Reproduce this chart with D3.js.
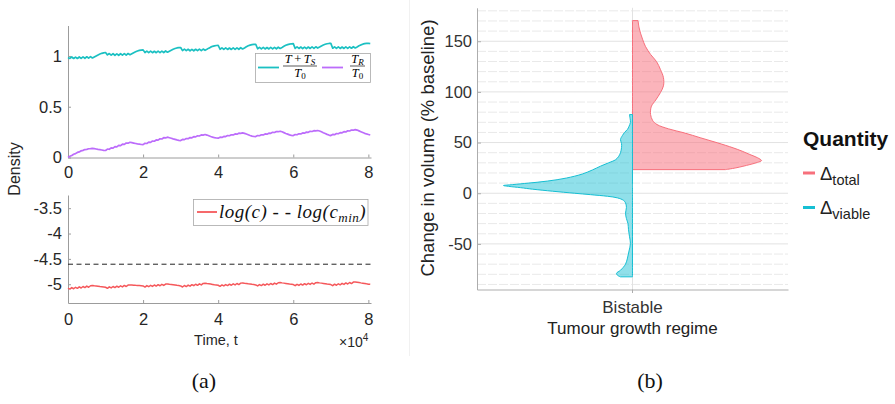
<!DOCTYPE html>
<html>
<head>
<meta charset="utf-8">
<script src="https://cdn.jsdelivr.net/npm/d3@7"></script>
<style>
  body { margin: 0; background: #fff; }
  svg { display: block; }
</style>
</head>
<body>
<div id="chart"></div>
<script>

// ---- Panel (a): time series, sampled every 0.05 x 10^4 time units ----
const timeStep = 0.05;

// (T + T_S) / T0
const sensitiveRatio = [
  0.985, 0.976, 0.99, 0.975, 0.989, 0.975, 0.99, 0.976, 0.991, 0.977, 0.992, 0.978, 0.993, 0.98, 0.99, 1.0, 1.01, 1.019, 1.026, 1.031,
  1.034, 1.01, 1.024, 1.008, 1.022, 1.007, 1.021, 1.007, 1.022, 1.008, 1.023, 1.009, 1.024, 1.012, 1.022, 1.032, 1.041, 1.049, 1.055, 1.058,
  1.06, 1.034, 1.048, 1.033, 1.047, 1.032, 1.046, 1.032, 1.047, 1.033, 1.048, 1.034, 1.049, 1.037, 1.047, 1.057, 1.066, 1.073, 1.079, 1.082,
  1.083, 1.053, 1.067, 1.052, 1.066, 1.051, 1.065, 1.051, 1.066, 1.052, 1.067, 1.053, 1.068, 1.056, 1.066, 1.077, 1.087, 1.095, 1.1, 1.103,
  1.105, 1.066, 1.08, 1.065, 1.079, 1.064, 1.078, 1.064, 1.079, 1.065, 1.08, 1.066, 1.081, 1.069, 1.079, 1.09, 1.1, 1.107, 1.111, 1.114,
  1.115, 1.071, 1.085, 1.07, 1.084, 1.069, 1.083, 1.069, 1.084, 1.07, 1.085, 1.071, 1.086, 1.074, 1.084, 1.095, 1.105, 1.112, 1.117, 1.12,
  1.121, 1.075, 1.089, 1.074, 1.088, 1.073, 1.087, 1.073, 1.088, 1.074, 1.089, 1.075, 1.09, 1.078, 1.088, 1.099, 1.108, 1.115, 1.12, 1.123,
  1.124, 1.076, 1.09, 1.075, 1.089, 1.074, 1.088, 1.074, 1.089, 1.075, 1.09, 1.076, 1.091, 1.079, 1.089, 1.1, 1.109, 1.116, 1.121, 1.124,
  1.125, 1.122
];

// T_R / T0
const resistantRatio = [
  0, 0.012, 0.02, 0.032, 0.038, 0.05, 0.055, 0.066, 0.07, 0.078, 0.08, 0.086, 0.087, 0.09, 0.088, 0.084, 0.08, 0.077, 0.074, 0.071,
  0.069, 0.083, 0.081, 0.095, 0.093, 0.107, 0.105, 0.119, 0.117, 0.131, 0.129, 0.143, 0.141, 0.15, 0.146, 0.142, 0.138, 0.134, 0.131, 0.128,
  0.127, 0.14, 0.138, 0.151, 0.149, 0.162, 0.16, 0.173, 0.171, 0.184, 0.182, 0.195, 0.193, 0.2, 0.195, 0.189, 0.183, 0.178, 0.173, 0.169,
  0.167, 0.178, 0.176, 0.187, 0.185, 0.196, 0.194, 0.205, 0.203, 0.214, 0.212, 0.223, 0.221, 0.226, 0.221, 0.214, 0.207, 0.201, 0.196, 0.192,
  0.19, 0.2, 0.198, 0.208, 0.206, 0.216, 0.214, 0.224, 0.222, 0.232, 0.23, 0.24, 0.238, 0.243, 0.238, 0.231, 0.224, 0.217, 0.211, 0.207,
  0.206, 0.216, 0.214, 0.224, 0.222, 0.232, 0.23, 0.24, 0.238, 0.248, 0.246, 0.256, 0.254, 0.259, 0.253, 0.245, 0.237, 0.23, 0.223, 0.218,
  0.216, 0.226, 0.224, 0.234, 0.232, 0.242, 0.24, 0.25, 0.248, 0.258, 0.256, 0.264, 0.262, 0.266, 0.261, 0.253, 0.244, 0.236, 0.228, 0.221,
  0.216, 0.227, 0.225, 0.236, 0.234, 0.245, 0.243, 0.254, 0.252, 0.263, 0.261, 0.271, 0.269, 0.275, 0.27, 0.262, 0.254, 0.246, 0.238, 0.232,
  0.227, 0.222
];

// log(c) - log(c_min)
const logDrug = [
  -5.075, -5.096, -5.067, -5.089, -5.06, -5.081, -5.052, -5.074, -5.045, -5.066, -5.037, -5.059, -5.03, -5.026, -5.031, -5.035, -5.04, -5.045, -5.049, -5.054,
  -5.059, -5.08, -5.052, -5.073, -5.045, -5.066, -5.038, -5.059, -5.031, -5.052, -5.024, -5.045, -5.017, -5.013, -5.016, -5.019, -5.022, -5.024, -5.027, -5.03,
  -5.033, -5.055, -5.027, -5.049, -5.021, -5.043, -5.015, -5.036, -5.008, -5.03, -5.002, -5.024, -4.996, -4.993, -4.999, -5.004, -5.01, -5.016, -5.022, -5.027,
  -5.033, -5.054, -5.025, -5.046, -5.017, -5.038, -5.009, -5.029, -5.0, -5.021, -4.992, -5.013, -4.984, -4.98, -4.986, -4.991, -4.997, -5.003, -5.009, -5.014,
  -5.02, -5.041, -5.013, -5.034, -5.006, -5.027, -4.999, -5.02, -4.992, -5.013, -4.985, -5.006, -4.978, -4.974, -4.98, -4.985, -4.991, -4.996, -5.002, -5.007,
  -5.013, -5.034, -5.006, -5.027, -4.999, -5.02, -4.992, -5.013, -4.985, -5.006, -4.978, -4.999, -4.971, -4.967, -4.973, -4.978, -4.984, -4.99, -4.996, -5.001,
  -5.007, -5.029, -5.001, -5.023, -4.995, -5.017, -4.989, -5.01, -4.982, -5.004, -4.976, -4.998, -4.97, -4.967, -4.973, -4.978, -4.984, -4.99, -4.996, -5.001,
  -5.007, -5.028, -4.999, -5.02, -4.991, -5.012, -4.983, -5.003, -4.974, -4.995, -4.966, -4.987, -4.958, -4.954, -4.96, -4.966, -4.973, -4.979, -4.985, -4.992,
  -4.998, -5.002
];

const logThreshold = -4.605;
const timeTicks = [0, 2, 4, 6, 8];
const densityTicks = [0, 0.5, 1];
const logTicks = [-5, -4.5, -4, -3.5];

// ---- Panel (b): split violin, relative density at each volume change ----
const regimes = ["Bistable"];
const quantities = ["total", "viable"];

const totalLevels = [23.3, 25, 28.3, 30.5, 32.2, 35, 38.2, 41.5, 44.8, 49.7, 54.6, 59.6, 63.5, 67.8, 72,
  77.7, 82, 86, 92, 99.4, 106, 114, 122, 130, 137, 145, 152, 158, 164, 170.4];
const totalDensity = [0.72, 0.8, 0.91, 0.97, 1.0, 0.97, 0.91, 0.85, 0.78, 0.66, 0.53, 0.4, 0.28, 0.19, 0.155,
  0.14, 0.14, 0.147, 0.18, 0.217, 0.24, 0.24, 0.217, 0.186, 0.14, 0.1, 0.078, 0.062, 0.05, 0.043];

const viableLevels = [-82.5, -81, -79, -76, -70, -64, -57, -49.5, -43, -36, -30, -25, -19.7, -14, -9.5, -7,
  -4.6, -3, -1.4, 0, 2, 4, 5.5, 6.8, 7.6, 8.5, 10, 12, 15, 19, 23, 26.7, 30, 33, 36, 40, 45, 49, 53, 57,
  60, 63, 66, 70, 74, 77.6];
const viableDensity = [0.093, 0.116, 0.124, 0.093, 0.054, 0.039, 0.027, 0.016, 0.023, 0.031, 0.035, 0.047,
  0.054, 0.047, 0.054, 0.07, 0.116, 0.194, 0.326, 0.45, 0.62, 0.775, 0.868, 0.961, 1.0, 0.93, 0.806, 0.659,
  0.512, 0.388, 0.31, 0.248, 0.186, 0.132, 0.109, 0.093, 0.085, 0.085, 0.093, 0.078, 0.062, 0.039, 0.027,
  0.016, 0.019, 0.023];

const volumeTicks = [-50, 0, 50, 100, 150];

// ---- Setup ----
const width = 895;
const height = 404;
const sans = "'Liberation Sans', Arial, Helvetica, sans-serif";
const serif = "'Liberation Serif', 'Times New Roman', serif";

const colSensitive = "#1bc0c2";
const colResistant = "#bc6cfb";
const colDrug = "#f5585b";
const colTotal = "#f7707c";
const colViable = "#16bfd3";

const svg = d3.select("#chart")
  .append("svg")
    .attr("width", width)
    .attr("height", height)
    .attr("viewBox", `0 0 ${width} ${height}`)
    .style("font-family", sans);

// faint border of the right-hand figure
svg.append("line")
  .attr("x1", 409.5).attr("x2", 409.5)
  .attr("y1", 0).attr("y2", 356)
  .attr("stroke", "#f1f1f1");

const times = sensitiveRatio.map((d, i) => i * timeStep);

const xTime = d3.scaleLinear().domain([0, 8.07]).range([68, 371]);
const yDensity = d3.scaleLinear().domain([0, 1.3]).range([157.5, 25.5]);
const yLog = d3.scaleLinear().domain([-5.37, -3.24]).range([303, 195]);

const styleMatlabAxis = g => {
  g.select(".domain").attr("stroke", "#9c9c9c");
  g.selectAll(".tick line").attr("stroke", "#9c9c9c");
  g.selectAll(".tick text")
    .attr("fill", "#262626")
    .style("font-size", "16.5px")
    .style("font-family", sans);
};

// top panel
svg.append("g")
  .attr("transform", `translate(0, ${yDensity(0)})`)
  .call(d3.axisBottom(xTime).tickValues(timeTicks).tickFormat(d => d)
    .tickSizeInner(-3).tickSizeOuter(0).tickPadding(9))
  .call(styleMatlabAxis);

svg.append("g")
  .attr("transform", `translate(${xTime(0)}, 0)`)
  .call(d3.axisLeft(yDensity).tickValues(densityTicks).tickFormat(d => d)
    .tickSizeInner(-3).tickSizeOuter(0).tickPadding(6))
  .call(styleMatlabAxis);

const lineTop = series => d3.line()
  .x((d, i) => xTime(times[i]))
  .y(d => yDensity(d))(series);

svg.append("path")
  .attr("d", lineTop(sensitiveRatio))
  .attr("fill", "none")
  .attr("stroke", colSensitive)
  .attr("stroke-width", 1.7)
  .attr("stroke-linejoin", "round");

svg.append("path")
  .attr("d", lineTop(resistantRatio))
  .attr("fill", "none")
  .attr("stroke", colResistant)
  .attr("stroke-width", 1.7)
  .attr("stroke-linejoin", "round");

// top legend
const legTop = svg.append("g").style("font-family", serif);
legTop.append("rect")
  .attr("x", 255.5).attr("y", 53.5)
  .attr("width", 115).attr("height", 29)
  .attr("fill", "#fff").attr("stroke", "#a8a8a8").attr("stroke-width", 0.8);
legTop.append("line")
  .attr("x1", 258).attr("x2", 279).attr("y1", 67.5).attr("y2", 67.5)
  .attr("stroke", colSensitive).attr("stroke-width", 1.8);
legTop.append("line")
  .attr("x1", 322).attr("x2", 343).attr("y1", 67.5).attr("y2", 67.5)
  .attr("stroke", colResistant).attr("stroke-width", 1.8);

const fraction = (cx, num, numSub, bar) => {
  const n = legTop.append("text")
    .attr("x", cx).attr("y", 63)
    .attr("text-anchor", "middle")
    .style("font-size", "12.5px");
  num.forEach(p => n.append("tspan").style("font-style", p.it ? "italic" : "normal").text(p.t));
  n.append("tspan").style("font-style", "italic").style("font-size", "9px").attr("dy", 2).text(numSub);
  legTop.append("line")
    .attr("x1", cx - bar / 2).attr("x2", cx + bar / 2)
    .attr("y1", 66).attr("y2", 66)
    .attr("stroke", "#111").attr("stroke-width", 0.7);
  const dn = legTop.append("text")
    .attr("x", cx).attr("y", 76.5)
    .attr("text-anchor", "middle")
    .style("font-size", "12.5px");
  dn.append("tspan").style("font-style", "italic").text("T");
  dn.append("tspan").style("font-size", "9px").attr("dy", 2).text("0");
};
fraction(300, [{t: "T", it: true}, {t: "\u2009+\u2009", it: false}, {t: "T", it: true}], "S", 34);
fraction(357.5, [{t: "T", it: true}], "R", 15);

// bottom panel
svg.append("g")
  .attr("transform", `translate(0, ${yLog.range()[0]})`)
  .call(d3.axisBottom(xTime).tickValues(timeTicks).tickFormat(d => d)
    .tickSizeInner(-3).tickSizeOuter(0).tickPadding(10))
  .call(styleMatlabAxis);

svg.append("g")
  .attr("transform", `translate(${xTime(0)}, 0)`)
  .call(d3.axisLeft(yLog).tickValues(logTicks).tickFormat(d => String(d))
    .tickSizeInner(-3).tickSizeOuter(0).tickPadding(6))
  .call(styleMatlabAxis);

svg.append("line")
  .attr("x1", xTime(0)).attr("x2", xTime.range()[1])
  .attr("y1", yLog(logThreshold)).attr("y2", yLog(logThreshold))
  .attr("stroke", "#222")
  .attr("stroke-width", 1)
  .attr("stroke-dasharray", "5,3.5");

svg.append("path")
  .attr("d", d3.line().x((d, i) => xTime(times[i])).y(d => yLog(d))(logDrug))
  .attr("fill", "none")
  .attr("stroke", colDrug)
  .attr("stroke-width", 1.5)
  .attr("stroke-linejoin", "round");

// bottom legend
const legBot = svg.append("g").style("font-family", serif);
legBot.append("rect")
  .attr("x", 193.5).attr("y", 199.5)
  .attr("width", 174.5).attr("height", 26)
  .attr("fill", "#fff").attr("stroke", "#a8a8a8").attr("stroke-width", 0.8);
legBot.append("line")
  .attr("x1", 197).attr("x2", 217).attr("y1", 212).attr("y2", 212)
  .attr("stroke", colDrug).attr("stroke-width", 1.8);
const legBotText = legBot.append("text")
  .attr("x", 219).attr("y", 218)
  .style("font-size", "19px")
  .style("font-style", "italic")
  .style("letter-spacing", "0.5px")
  .attr("fill", "#111");
legBotText.append("tspan").text("log(c) - - log(c");
legBotText.append("tspan").attr("dy", 4).style("font-size", "13px").text("min");
legBotText.append("tspan").attr("dy", -4).text(")");

// labels of panel (a)
svg.append("text")
  .attr("transform", "translate(20, 169) rotate(-90)")
  .attr("text-anchor", "middle")
  .attr("fill", "#262626")
  .style("font-size", "16px")
  .text("Density");

svg.append("text")
  .attr("x", 216).attr("y", 345)
  .attr("text-anchor", "middle")
  .attr("fill", "#262626")
  .style("font-size", "14.5px")
  .text("Time, t");

const mult = svg.append("text")
  .attr("x", 339).attr("y", 347)
  .attr("fill", "#262626")
  .style("font-size", "14px");
mult.append("tspan").text("\u00d710");
mult.append("tspan").attr("dy", -6).style("font-size", "10px").text("4");

// ---- Panel (b) ----
const xRegime = d3.scaleBand().domain(regimes).range([477, 788]);
const yVolume = d3.scaleLinear().domain([-95, 183]).range([289.5, 7.8]);
const halfWidth = d3.scaleLinear().domain([0, 1]).range([0, 129]);
const colour = d3.scaleOrdinal().domain(quantities).range([colTotal, colViable]);
const cx = xRegime("Bistable") + xRegime.bandwidth() / 2;

// grid
const minorBreaks = d3.range(-90, 190, 10).filter(v => v % 50 !== 0 && v <= 183);
svg.append("g")
  .selectAll("line")
  .data(minorBreaks)
  .join("line")
    .attr("x1", 477).attr("x2", 788)
    .attr("y1", d => yVolume(d)).attr("y2", d => yVolume(d))
    .attr("stroke", "#e9e9e9")
    .attr("stroke-width", 1)
    .attr("stroke-dasharray", "9,2");

svg.append("g")
  .selectAll("line")
  .data(volumeTicks)
  .join("line")
    .attr("x1", 477).attr("x2", 788)
    .attr("y1", d => yVolume(d)).attr("y2", d => yVolume(d))
    .attr("stroke", "#e2e2e2")
    .attr("stroke-width", 1);

svg.append("line")
  .attr("x1", cx).attr("x2", cx)
  .attr("y1", yVolume.range()[1]).attr("y2", yVolume.range()[0])
  .attr("stroke", "#e2e2e2");

// violins
const totalPts = totalLevels.map((v, i) => ({v, d: totalDensity[i]}));
const viablePts = viableLevels.map((v, i) => ({v, d: viableDensity[i]}));

const rightHalf = d3.area()
  .curve(d3.curveCatmullRom)
  .y(p => yVolume(p.v))
  .x0(cx)
  .x1(p => cx + halfWidth(p.d));

const leftHalf = d3.area()
  .curve(d3.curveCatmullRom)
  .y(p => yVolume(p.v))
  .x0(p => cx - halfWidth(p.d))
  .x1(cx);

svg.append("path")
  .attr("d", rightHalf(totalPts))
  .attr("fill", colour("total"))
  .attr("fill-opacity", 0.52)
  .attr("stroke", colour("total"))
  .attr("stroke-width", 1);

svg.append("path")
  .attr("d", leftHalf(viablePts))
  .attr("fill", colour("viable"))
  .attr("fill-opacity", 0.48)
  .attr("stroke", colour("viable"))
  .attr("stroke-width", 1);

// axes of panel (b)
const styleGgAxis = g => {
  g.select(".domain").attr("stroke", "#adadad");
  g.selectAll(".tick line").attr("stroke", "#adadad");
  g.selectAll(".tick text")
    .attr("fill", "#333")
    .style("font-size", "16.5px")
    .style("font-family", sans);
};

svg.append("g")
  .attr("transform", "translate(477, 0)")
  .call(d3.axisLeft(yVolume).tickValues(volumeTicks).tickFormat(d => String(d))
    .tickSizeInner(-4).tickSizeOuter(0).tickPadding(5))
  .call(styleGgAxis);

svg.append("g")
  .attr("transform", `translate(0, ${yVolume.range()[0]})`)
  .call(d3.axisBottom(xRegime).tickSizeInner(3.5).tickSizeOuter(0).tickPadding(5))
  .call(styleGgAxis)
  .call(g => g.selectAll(".tick text")
    .attr("dy", null).attr("y", 23.5)
    .style("font-size", "17px"));

svg.append("text")
  .attr("x", cx).attr("y", 334)
  .attr("text-anchor", "middle")
  .attr("fill", "#222")
  .style("font-size", "17px")
  .text("Tumour growth regime");

svg.append("text")
  .attr("transform", "translate(434, 148) rotate(-90)")
  .attr("text-anchor", "middle")
  .attr("fill", "#222")
  .style("font-size", "18.5px")
  .text("Change in volume (% baseline)");

// legend of panel (b)
const legB = svg.append("g");
legB.append("text")
  .attr("x", 803).attr("y", 146)
  .attr("fill", "#111")
  .style("font-size", "21px")
  .style("font-weight", "bold")
  .text("Quantity");

const legRows = legB.selectAll(".leg-row")
  .data(quantities)
  .join("g")
    .attr("class", "leg-row")
    .attr("transform", (d, i) => `translate(803, ${173 + i * 34.5})`);

legRows.append("line")
  .attr("x1", 0).attr("x2", 12)
  .attr("y1", 0).attr("y2", 0)
  .attr("stroke", d => colour(d))
  .attr("stroke-width", 3);

const legLabel = legRows.append("text")
  .attr("x", 17).attr("y", 6.5)
  .attr("fill", "#222")
  .style("font-size", "18.5px");
legLabel.append("tspan").text("\u0394");
legLabel.append("tspan")
  .attr("dy", 5)
  .style("font-size", "14.5px")
  .text(d => d);

// captions
svg.append("text")
  .attr("x", 204).attr("y", 388)
  .attr("text-anchor", "middle")
  .style("font-family", serif)
  .style("font-size", "22px")
  .attr("fill", "#111")
  .text("(a)");

svg.append("text")
  .attr("x", 650).attr("y", 388)
  .attr("text-anchor", "middle")
  .style("font-family", serif)
  .style("font-size", "22px")
  .attr("fill", "#111")
  .text("(b)");

</script>
</body>
</html>
